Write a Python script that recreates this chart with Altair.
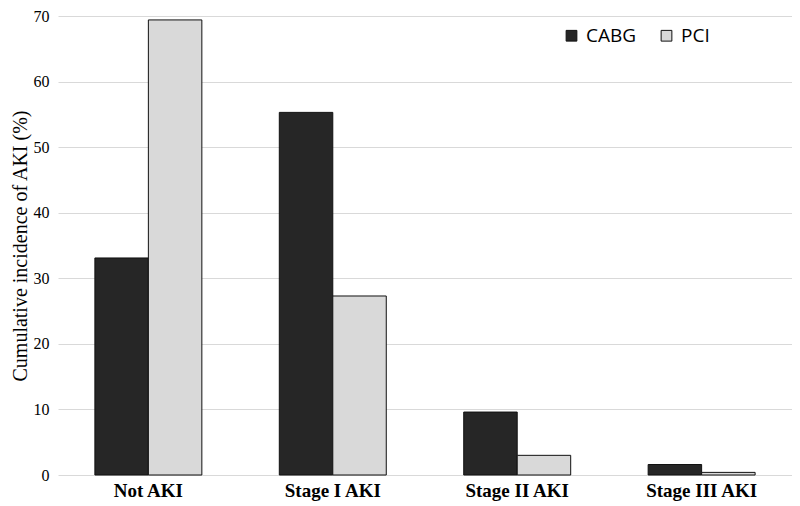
import altair as alt
import pandas as pd

categories = ["Not AKI", "Stage I AKI", "Stage II AKI", "Stage III AKI"]
cabg = [33.1, 55.3, 9.6, 1.6]
pci = [69.4, 27.3, 3.0, 0.4]
series = ["CABG", "PCI"]

rows = []
for c, a, b in zip(categories, cabg, pci):
    rows.append({"cat": c, "grp": "CABG", "val": a})
    rows.append({"cat": c, "grp": "PCI", "val": b})
df = pd.DataFrame(rows)

chart = alt.Chart(df).mark_bar(stroke="#111111", strokeWidth=1).encode(
    x=alt.X("cat:N", sort=categories, title=None,
            scale=alt.Scale(paddingInner=0.42, paddingOuter=0.2),
            axis=alt.Axis(labelAngle=0, labelFont="Liberation Serif", labelFontWeight="bold",
                          labelFontSize=19, labelColor="#000000", ticks=False, domain=False,
                          labelPadding=6)),
    xOffset=alt.XOffset("grp:N", sort=series, scale=alt.Scale(paddingInner=0, paddingOuter=0)),
    y=alt.Y("val:Q", title="Cumulative incidence of AKI (%)",
            scale=alt.Scale(domain=[0, 70], nice=False),
            axis=alt.Axis(values=[0, 10, 20, 30, 40, 50, 60, 70], domain=False, ticks=False,
                          labelFont="Liberation Serif", labelFontSize=16, labelColor="#000000",
                          labelPadding=9, titleFont="Liberation Serif", titleFontSize=20,
                          titleFontWeight="normal", titleColor="#000000", titlePadding=3,
                          gridColor="#d9d9d9", gridWidth=1)),
    color=alt.Color("grp:N", sort=series, title=None,
                    scale=alt.Scale(domain=series, range=["#262626", "#d9d9d9"]),
                    legend=alt.Legend(orient="none", legendX=504, legendY=10, direction="horizontal",
                                      symbolType="square", symbolSize=115, symbolStrokeColor="#111111",
                                      symbolStrokeWidth=1, labelFont="Open Sans", labelFontSize=19,
                                      labelColor="#000000", columnPadding=20, labelOffset=5)),
).properties(
    width=734, height=459,
    autosize=alt.AutoSizeParams(type="none"),
    padding={"left": 50, "top": 8, "right": 0, "bottom": 31},
).configure_view(stroke=None)

chart.save("out.html", embed_options={"renderer": "svg", "actions": False})
